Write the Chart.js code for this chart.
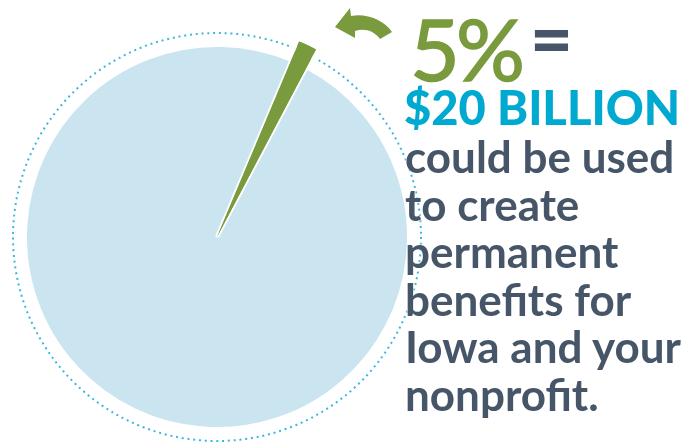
<!DOCTYPE html>
<html lang="en">
<head>
<meta charset="UTF-8">
<title>5% = $20 Billion</title>
<script src="https://cdn.jsdelivr.net/npm/chart.js"></script>
<style>
  html, body {
    margin: 0;
    padding: 0;
    background: #fff;
    overflow: hidden;
  }
  .wrap {
    position: relative;
    width: 699px;
    height: 448px;
    font-family: Lato, "Open Sans", sans-serif;
  }
  #pie {
    position: absolute;
    left: 0;
    top: 0;
  }
  .arrow {
    position: absolute;
    left: 330px;
    top: 0;
  }
  .pct {
    position: absolute;
    left: 410px;
    top: 5px;
    font-size: 86px;
    font-weight: 400;
    color: #7a9a3e;
    line-height: 1;
    letter-spacing: -4px;
    white-space: nowrap;
    -webkit-text-stroke: 1.5px #7a9a3e;
  }
  .eq {
    position: absolute;
    left: 530px;
    top: 1px;
    font-size: 74px;
    font-weight: 900;
    color: #465668;
    line-height: 1;
  }
  .big {
    position: absolute;
    left: 404px;
    top: 84px;
    font-size: 47px;
    font-weight: 900;
    color: #00a9d0;
    line-height: 1;
    white-space: nowrap;
  }
  .body {
    position: absolute;
    left: 405px;
    top: 133px;
    font-size: 44px;
    font-weight: 700;
    color: #465668;
    line-height: 47.6px;
    white-space: nowrap;
    text-shadow: 0 0 2px #fff, 0 0 2px #fff;
  }
</style>
</head>
<body>
<div class="wrap">
  <canvas id="pie" width="699" height="448"></canvas>

  <!-- curved arrow pointing back at the slice -->
  <svg class="arrow" width="70" height="50" viewBox="0 0 70 50">
    <path d="M5 27 L20 8 L21 16 C36 13 54 20 62 32 L50 39 C44 31 35 28 25 31 L25 38 Z" fill="#7a9a3e"/>
  </svg>

  <div class="pct">5%</div>
  <div class="eq">=</div>
  <div class="big">$20 BILLION</div>
  <div class="body">could be used<br>to create<br>permanent<br>benefits for<br>Iowa and your<br>nonprofit.</div>
</div>

<script>
// slice data (the green wedge is drawn very thin)
const sliceLabels = ["Everything else", "Permanent benefits"];
const sliceValues = [98.6, 1.4];
const sliceColors = ["#cae5f0", "#7a9a3e"];
const sliceBorders = [4, 0];

// green wedge sticks out past the blue disc
const extendGreen = {
    id: "extendGreen",
    afterUpdate(chart) {
        const arc = chart.getDatasetMeta(0).data[1];
        arc.outerRadius = arc.outerRadius + 20;
    }
};

// dotted ring around the pie
const dottedRing = {
    id: "dottedRing",
    beforeDatasetsDraw(chart) {
        const arc = chart.getDatasetMeta(0).data[0];
        const ctx = chart.ctx;
        ctx.save();
        ctx.beginPath();
        ctx.arc(arc.x, arc.y, arc.outerRadius + 12, 0, Math.PI * 2);
        ctx.setLineDash([2, 3.8]);
        ctx.lineWidth = 2;
        ctx.strokeStyle = "#3fb6dc";
        ctx.stroke();
        ctx.restore();
    },
    // white halo so the ring breaks around the green wedge
    afterDatasetsDraw(chart) {
        const arc = chart.getDatasetMeta(0).data[1];
        const ctx = chart.ctx;
        const r = chart.getDatasetMeta(0).data[0].outerRadius;
        ctx.save();
        ctx.beginPath();
        ctx.arc(arc.x, arc.y, r + 12, arc.startAngle - 0.035, arc.endAngle + 0.035);
        ctx.lineWidth = 6;
        ctx.strokeStyle = "#ffffff";
        ctx.stroke();
        ctx.restore();
        arc.draw(ctx);
    }
};

new Chart(document.getElementById("pie"), {
    type: "pie",
    data: {
        labels: sliceLabels,
        datasets: [{
            data: sliceValues,
            backgroundColor: sliceColors,
            borderColor: "#ffffff",
            borderWidth: sliceBorders
        }]
    },
    options: {
        responsive: false,
        animation: false,
        events: [],
        rotation: 27.84,
        layout: {
            padding: { left: 23, top: 43, right: 288, bottom: 17 }
        },
        plugins: {
            legend: { display: false },
            tooltip: { enabled: false }
        }
    },
    plugins: [dottedRing, extendGreen]
});
</script>
</body>
</html>
